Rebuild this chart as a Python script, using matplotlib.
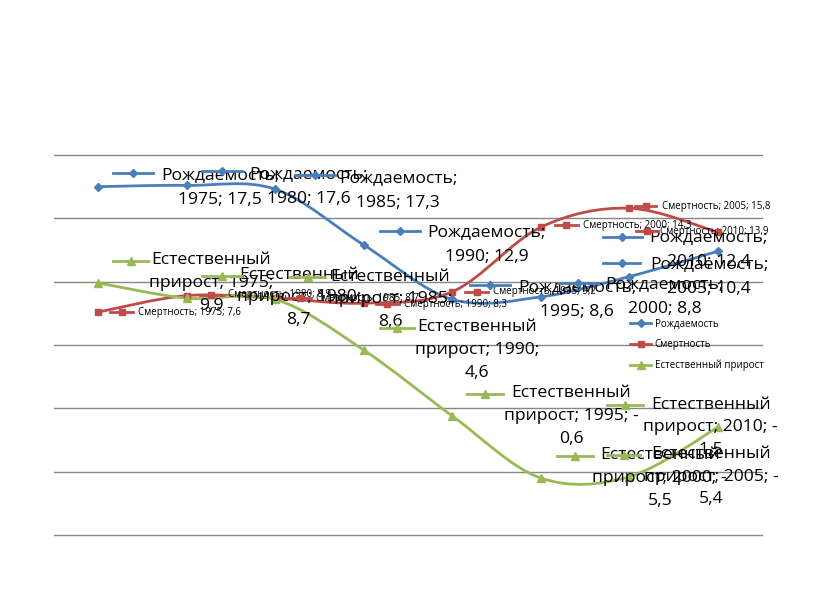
import numpy as np
import matplotlib
matplotlib.use('Agg')
import matplotlib.pyplot as plt
from matplotlib.path import Path
from matplotlib.patches import PathPatch
from matplotlib.lines import Line2D
from matplotlib.transforms import IdentityTransform

# ---------------- data ----------------
years = ['1975', '1980', '1985', '1990', '1995', '2000', '2005', '2010']
birth = [17.5, 17.6, 17.3, 12.9, 8.6, 8.8, 10.4, 12.4]
death = [7.6, 8.9, 8.7, 8.3, 9.2, 14.3, 15.8, 13.9]
natural = [9.9, 8.7, 8.6, 4.6, -0.6, -5.5, -5.4, -1.5]
series_names = ['Рождаемость', 'Смертность', 'Естественный прирост']
y_min, y_max, y_step = -10, 20, 5

# ---------------- styles ----------------
colors = ['#4A7EBB', '#BE4B48', '#98B954']
markers = ['D', 's', '^']
msizes = [4.2, 5.0, 5.5]
FONT = 'Open Sans'
BIG = 12.6
SMALL = 7.0

# label placement (pixels, x right, y down) relative to the data point
# (text centre dx, text centre dy, key x0, key x1, key dy)
birth_lab = [(122, 1, 15, 55, -14), (122, 1, 15, 55, -14), (123, 1, 20, 60, -14),
             (123, 0, 16, 56, -14), (125, 0, 18, 58, -14), (124, 0, 17, 57, -14),
             (80, 0, -26, 11, -14), (-9, -2, -115, -76, -14)]
# (text left dx, dy, key x0, key x1)
death_lab = [(40, 0, 12, 35), (41, -1, 13, 36), (41, 0, 13, 36), (40, 1, 12, 35),
             (41, 0, 13, 36), (42, -2, 14, 37), (33, -2, 6, 27), (-58, -1, -82, -60)]
natural_lab = [(113, 0, 15, 50, -22), (112, -1, 15, 55, -22), (115, 0, 15, 50, -22),
               (113, 0, 16, 50, -22), (119, 0, 15, 51, -22), (119, 0, 16, 52, -22),
               (82, 0, -22, 11, -22), (-7, 0, -111, -75, -22)]


def fmt(v):
    return ('%g' % v).replace('.', ',')


def smooth_path(xs, ys):
    pts = np.column_stack([xs, ys]).astype(float)
    n = len(pts)
    verts = [pts[0]]
    codes = [Path.MOVETO]
    for k in range(n - 1):
        p0 = pts[k - 1] if k > 0 else pts[k]
        p1 = pts[k]
        p2 = pts[k + 1]
        p3 = pts[k + 2] if k + 2 < n else pts[k + 1]
        c1 = p1 + (p2 - p0) / 6.0
        c2 = p2 - (p3 - p1) / 6.0
        verts += [c1, c2, p2]
        codes += [Path.CURVE4] * 3
    return Path(verts, codes)


W, H, DPI = 816, 613, 100
fig = plt.figure(figsize=(W / DPI, H / DPI), dpi=DPI)
fig.patch.set_facecolor('white')
L, R, T, B = 54, 762, 155, 535
ax = fig.add_axes([L / W, 1 - B / H, (R - L) / W, (B - T) / H])
ax.set_xlim(-0.5, len(years) - 0.5)
ax.set_ylim(y_min, y_max)
ax.set_yticks(np.arange(y_min, y_max + 0.1, y_step))
ax.set_xticks([])
ax.tick_params(left=False, labelleft=False, bottom=False, labelbottom=False)
for s in ax.spines.values():
    s.set_visible(False)
ax.yaxis.grid(True, color='#878787', linewidth=1.0)
for gl in ax.get_ygridlines():
    gl.set_clip_on(False)
ax.set_axisbelow(True)
ax.set_facecolor('none')

xs = np.arange(len(years))
all_series = [birth, death, natural]
for vals, c, m, ms in zip(all_series, colors, markers, msizes):
    patch = PathPatch(smooth_path(xs, vals), fill=False, edgecolor=c, lw=2.0,
                      capstyle='round', joinstyle='round', zorder=2)
    ax.add_patch(patch)
    ax.plot(xs, vals, linestyle='none', marker=m, ms=ms, color=c,
            markeredgecolor=c, zorder=3)


def draw_key(i, v, kx0, kx1, kdy, si):
    bx, by = ax.transData.transform((i, v))
    yk = by - kdy
    fig.add_artist(Line2D([bx + kx0, bx + kx1], [yk, yk], transform=IdentityTransform(),
                          color=colors[si], lw=2.0, zorder=4))
    fig.add_artist(Line2D([bx + (kx0 + kx1) / 2], [yk], transform=IdentityTransform(),
                          color=colors[si], marker=markers[si], ms=msizes[si],
                          linestyle='none', zorder=4))


for i, (yr, v) in enumerate(zip(years, birth)):
    dx, dy, k0, k1, kdy = birth_lab[i]
    draw_key(i, v, k0, k1, kdy, 0)
    ax.annotate('%s;\n%s; %s' % (series_names[0], yr, fmt(v)), xy=(i, v),
                xytext=(dx, -dy), textcoords='offset pixels', ha='center', va='center',
                multialignment='center', fontsize=BIG, family=FONT, linespacing=1.75,
                zorder=5, annotation_clip=False)

for i, (yr, v) in enumerate(zip(years, death)):
    dx, dy, k0, k1 = death_lab[i]
    draw_key(i, v, k0, k1, dy, 1)
    ax.annotate('%s; %s; %s' % (series_names[1], yr, fmt(v)), xy=(i, v),
                xytext=(dx, -dy), textcoords='offset pixels', ha='left', va='center',
                fontsize=SMALL, family=FONT, zorder=5, annotation_clip=False)

nat_words = series_names[2].split(' ')
for i, (yr, v) in enumerate(zip(years, natural)):
    dx, dy, k0, k1, kdy = natural_lab[i]
    draw_key(i, v, k0, k1, kdy, 2)
    if v < 0:
        txt = '%s\n%s; %s; -\n%s' % (nat_words[0], nat_words[1], yr, fmt(-v))
    else:
        txt = '%s\n%s; %s;\n%s' % (nat_words[0], nat_words[1], yr, fmt(v))
    ax.annotate(txt, xy=(i, v), xytext=(dx, -dy), textcoords='offset pixels',
                ha='center', va='center', multialignment='center', fontsize=BIG,
                family=FONT, linespacing=1.55, zorder=5, annotation_clip=False)

handles = [Line2D([], [], color=c, marker=m, ms=ms, lw=2.0)
           for c, m, ms in zip(colors, markers, msizes)]
fig.legend(handles, series_names, loc='center left',
           bbox_to_anchor=(630 / W, 1 - 345 / H), frameon=False,
           prop={'family': FONT, 'size': SMALL}, handlelength=2.2,
           handletextpad=0.35, labelspacing=1.0, borderpad=0, borderaxespad=0)

fig.savefig('out.png', dpi=DPI, facecolor='white')
